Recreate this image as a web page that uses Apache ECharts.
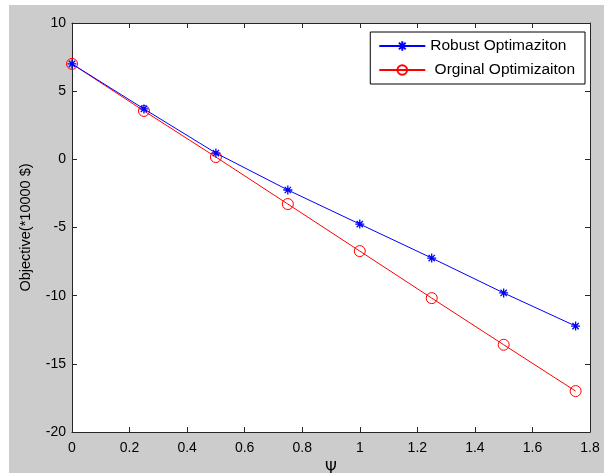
<!DOCTYPE html>
<html><head><meta charset="utf-8">
<script src="https://cdn.jsdelivr.net/npm/echarts@6/dist/echarts.min.js"></script>
<style>html,body{margin:0;padding:0;background:#fff}#c{width:604px;height:473px}</style>
</head><body><div id="c"></div>
<script>
const psi = [0, 0.25, 0.5, 0.75, 1, 1.25, 1.5, 1.75];
const robust = [7.0, 3.7, 0.46, -2.25, -4.75, -7.24, -9.8, -12.23];
const original = [7.0, 3.55, 0.17, -3.28, -6.73, -10.18, -13.6, -17.0];
const xTicks = [0, 0.2, 0.4, 0.6, 0.8, 1, 1.2, 1.4, 1.6, 1.8];
const yTicks = [-20, -15, -10, -5, 0, 5, 10];
const seriesNames = ['Robust Optimaziton', ' Orginal Optimizaiton'];

const asterisk = 'path://M5,0L5,10M0,5L10,5M1.5,1.5L8.5,8.5M8.5,1.5L1.5,8.5';
const font = 'Liberation Sans, Arial, sans-serif';
const axisCol = '#262626';
const chart = echarts.init(document.getElementById('c'));
function pair(xs, ys){ return xs.map((x,i)=>[x, ys[i]]); }
const baseAxis = {
  axisLine:{show:true,onZero:false,lineStyle:{color:axisCol,width:1}},
  axisTick:{show:true,inside:true,length:5,lineStyle:{color:axisCol}},
  splitLine:{show:false}
};
chart.setOption({
  animation:false,
  backgroundColor:'#fff',
  graphic:[{type:'rect',z:-10,shape:{x:9,y:5,width:604,height:473},style:{fill:'#cccccc'},silent:true}],
  grid:{left:72,top:23,right:14,bottom:41,show:true,backgroundColor:'#fff',borderWidth:0,containLabel:false,outerBoundsMode:'none'},
  legend:{
    right:19, top:32, orient:'vertical', backgroundColor:'#fff', borderColor:'#000', borderWidth:1,
    padding:[6,10,6,8], itemGap:8, itemWidth:46, itemHeight:12,
    textStyle:{fontFamily:font,fontSize:15.5,color:'#000'},
    data:seriesNames
  },
  xAxis:[
    Object.assign({type:'value',min:0,max:1.8,interval:0.2,position:'bottom',
      name:'Ψ',nameLocation:'middle',nameGap:30,nameTextStyle:{fontFamily:'DejaVu Sans, sans-serif',fontSize:15,color:'#000'},
      axisLabel:{fontFamily:font,fontSize:14,color:'#000',margin:9,formatter:v=>String(+v.toFixed(1))}},baseAxis),
    Object.assign({type:'value',min:0,max:1.8,interval:0.2,position:'top',axisLabel:{show:false}},baseAxis)
  ],
  yAxis:[
    Object.assign({type:'value',min:-20,max:10,interval:5,position:'left',
      name:'Objective(*10000 $)',nameLocation:'middle',nameGap:39,nameTextStyle:{fontFamily:font,fontSize:14.5,color:'#000'},
      axisLabel:{fontFamily:font,fontSize:14,color:'#000',margin:6}},baseAxis),
    Object.assign({type:'value',min:-20,max:10,interval:5,position:'right',axisLabel:{show:false}},baseAxis)
  ],
  series:[
    {name:seriesNames[0],type:'line',data:pair(psi,robust),symbol:asterisk,symbolSize:9,
      lineStyle:{color:'#0000ff',width:1},itemStyle:{color:'rgba(0,0,0,0)',borderColor:'#0000ff',borderWidth:1.3},
      color:'#0000ff',z:3},
    {name:seriesNames[1],type:'line',data:pair(psi,original),symbol:'circle',symbolSize:11,
      lineStyle:{color:'#ff0000',width:1},itemStyle:{color:'rgba(0,0,0,0)',borderColor:'#ff0000',borderWidth:1},
      color:'#ff0000',z:2}
  ]
});
</script></body></html>
